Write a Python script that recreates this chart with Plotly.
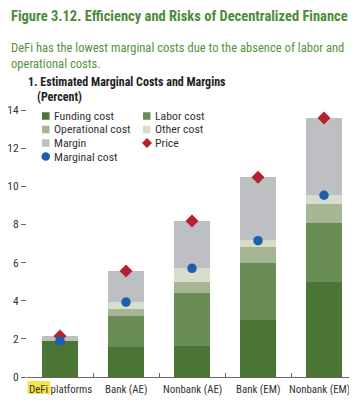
import plotly.graph_objects as go

categories = ["DeFi platforms", "Bank (AE)", "Nonbank (AE)", "Bank (EM)", "Nonbank (EM)"]
funding_cost = [1.9, 1.55, 1.6, 3.0, 5.0]
labor_cost = [0.0, 1.67, 2.83, 3.0, 3.1]
operational_cost = [0.0, 0.35, 0.53, 0.82, 0.96]
other_cost = [0.0, 0.35, 0.73, 0.37, 0.49]
margin = [0.25, 1.64, 2.48, 3.3, 4.05]
price = [2.15, 5.56, 8.18, 10.47, 13.58]
marginal_cost = [1.9, 3.93, 5.7, 7.15, 9.53]
y_ticks = [0, 2, 4, 6, 8, 10, 12, 14]

FONT = "Roboto Condensed, Liberation Sans, Arial"
OFF = 8  # page body margin in the browser
W, H = 349, 392
ML, MR, MT, MB = 19, 0, 92, 23
PW, PH = W - ML - MR, H - MT - MB

def px(x):
    # reference window pixel -> paper x
    return (x - OFF - ML) / PW

def py(y):
    # reference window pixel -> paper y
    return (H - MB - (y - OFF)) / PH

bar_series = [
    ("Funding cost", funding_cost, "#4a7535"),
    ("Labor cost", labor_cost, "#6a8c55"),
    ("Operational cost", operational_cost, "#a6b593"),
    ("Other cost", other_cost, "#d6ddca"),
    ("Margin", margin, "#bdbfc2"),
]
PRICE_COLOR = "#b3202e"
MC_COLOR = "#1c5fae"

fig = go.Figure()
for name, vals, col in bar_series:
    fig.add_trace(go.Bar(x=categories, y=vals, name=name, marker=dict(color=col, line=dict(width=0)),
                         width=0.56, showlegend=False))
fig.add_trace(go.Scatter(x=categories, y=price, mode="markers", name="Price", showlegend=False,
                         marker=dict(symbol="diamond", size=10, color=PRICE_COLOR)))
fig.add_trace(go.Scatter(x=categories, y=marginal_cost, mode="markers", name="Marginal cost", showlegend=False,
                         marker=dict(symbol="circle", size=9.5, color=MC_COLOR)))

annotations = []
shapes = []

# Titles
annotations.append(dict(text="<b>Figure 3.12. Efficiency and Risks of Decentralized Finance</b>",
                        x=px(9), y=py(17), xref="paper", yref="paper", xanchor="left", yanchor="middle",
                        showarrow=False, font=dict(family=FONT, size=14.5, color="#4f8a3a")))
annotations.append(dict(text="DeFi has the lowest marginal costs due to the absence of labor and<br>operational costs.",
                        x=px(9), y=py(55.5), xref="paper", yref="paper", xanchor="left", yanchor="middle",
                        align="left", showarrow=False, font=dict(family=FONT, size=12.6, color="#5a9145")))
annotations.append(dict(text="<b>1. Estimated Marginal Costs and Margins</b>",
                        x=px(26), y=py(82), xref="paper", yref="paper", xanchor="left", yanchor="middle",
                        showarrow=False, font=dict(family=FONT, size=12, color="#222222")))
annotations.append(dict(text="<b>(Percent)</b>",
                        x=px(35), y=py(97), xref="paper", yref="paper", xanchor="left", yanchor="middle",
                        showarrow=False, font=dict(family=FONT, size=12, color="#222222")))

# Category labels (placed on the category axis; last one nudged to stay inside the page)
for i, cat in enumerate(categories):
    annotations.append(dict(text=cat, x=cat, y=0, xref="x", yref="y", xanchor="center", yanchor="top",
                            yshift=-4, xshift=(-5 if i == len(categories) - 1 else 0), showarrow=False,
                            font=dict(family=FONT, size=10.9, color="#333333")))

# Legend (two columns)
legend_items = [(n, c, "square") for n, _, c in bar_series] + [("Price", PRICE_COLOR, "diamond"),
                                                             ("Marginal cost", MC_COLOR, "circle")]
col_x = [42, 143]
row_y = [116, 129.5, 143, 156.5]
for i, (name, col, kind) in enumerate(legend_items):
    cx = col_x[i % 2]
    ry = row_y[i // 2]
    if kind == "square":
        shapes.append(dict(type="rect", xref="paper", yref="paper", x0=px(cx), x1=px(cx + 7.5),
                           y0=py(ry - 3.75), y1=py(ry + 3.75), fillcolor=col, line=dict(width=0)))
    elif kind == "diamond":
        shapes.append(dict(type="path", xref="paper", yref="paper",
                           path=f"M {px(cx-1)} {py(ry)} L {px(cx+4)} {py(ry-5)} L {px(cx+9)} {py(ry)} L {px(cx+4)} {py(ry+5)} Z",
                           fillcolor=col, line=dict(width=0)))
    else:
        shapes.append(dict(type="circle", xref="paper", yref="paper", x0=px(cx - 0.5), x1=px(cx + 8),
                           y0=py(ry - 4.25), y1=py(ry + 4.25), fillcolor=col, line=dict(width=0)))
    annotations.append(dict(text=name, x=px(cx + 10), y=py(ry), xref="paper", yref="paper",
                            xanchor="left", yanchor="middle", showarrow=False,
                            font=dict(family=FONT, size=11.8, color="#333333")))

# Yellow highlight behind "DeFi"
shapes.append(dict(type="rect", xref="paper", yref="paper", layer="below",
                   x0=px(27.5), x1=px(50.5), y0=py(394), y1=py(381), fillcolor="#f9e34a", line=dict(width=0)))

fig.update_layout(
    width=W, height=H,
    margin=dict(l=ML, r=MR, t=MT, b=MB),
    barmode="stack", bargap=0.44,
    paper_bgcolor="white", plot_bgcolor="rgba(0,0,0,0)",
    font=dict(family=FONT, size=12, color="#333333"),
    showlegend=False,
    annotations=annotations, shapes=shapes,
    xaxis=dict(showline=True, linecolor="#666666", linewidth=1, ticks="inside", ticklen=4,
               tickcolor="#666666", tickson="boundaries", showgrid=False, zeroline=False,
               showticklabels=False, range=[-0.5, 4.5], fixedrange=True),
    yaxis=dict(range=[0, PH / 19.07], tickvals=y_ticks, ticks="outside", ticklen=5, tickcolor="#666666",
               showline=False, showgrid=False, zeroline=False,
               tickfont=dict(family=FONT, size=11.5, color="#333333"), fixedrange=True),
)

fig.write_html("out.html")
